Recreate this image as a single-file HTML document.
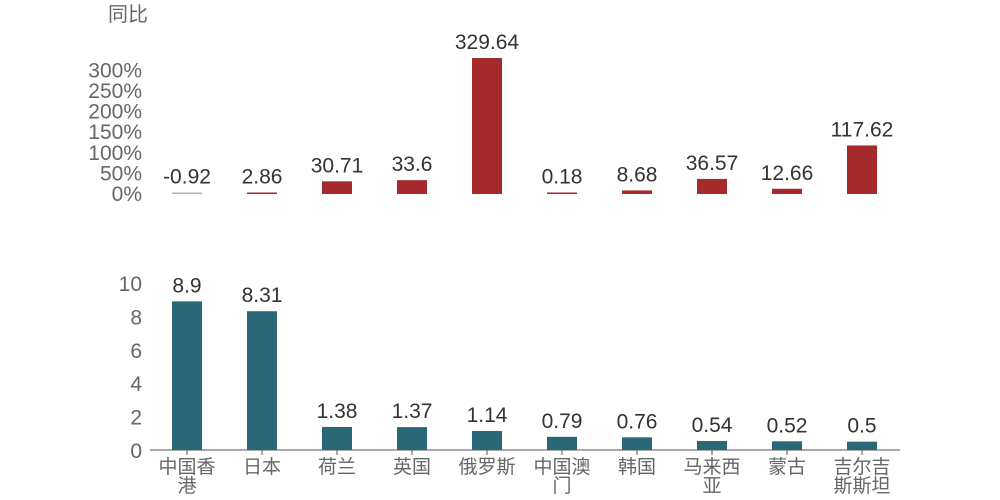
<!DOCTYPE html>
<html><head><meta charset="utf-8"><style>
html,body{margin:0;padding:0;background:#fff;width:1000px;height:500px;overflow:hidden}
svg text{font-family:"Liberation Sans","Noto Sans CJK SC",sans-serif}
</style></head><body>
<svg id="chart" width="1000" height="500" xmlns="http://www.w3.org/2000/svg">
<text x="108" y="21" font-size="20" fill="#666">同比</text>
<g id="topg"></g>
<g id="botg"></g>
</svg>
<script>
const categories=["中国香港","日本","荷兰","英国","俄罗斯","中国澳门","韩国","马来西亚","蒙古","吉尔吉斯斯坦"];
const catLines=[["中国香","港"],["日本"],["荷兰"],["英国"],["俄罗斯"],["中国澳","门"],["韩国"],["马来西","亚"],["蒙古"],["吉尔吉","斯斯坦"]];
const yoyValues=[-0.92,2.86,30.71,33.6,329.64,0.18,8.68,36.57,12.66,117.62];
const mainValues=[8.9,8.31,1.38,1.37,1.14,0.79,0.76,0.54,0.52,0.5];
const yoyTicks=[0,50,100,150,200,250,300];
const mainTicks=[0,2,4,6,8,10];
const NS="http://www.w3.org/2000/svg";
function mk(p,t,a){const e=document.createElementNS(NS,t);for(const k in a)e.setAttribute(k,a[k]);p.appendChild(e);return e;}
const xC=i=>187+i*75;
const yTop=v=>194-v*0.4125;
const yBot=v=>450-v*16.7;
const gTop=document.getElementById('topg'),gBot=document.getElementById('botg');
yoyTicks.forEach(t=>{const e=mk(gTop,'text',{x:142,y:yTop(t)+7,'text-anchor':'end','font-size':21,fill:'#666'});e.textContent=t+'%';

});
mainTicks.forEach(t=>{const e=mk(gBot,'text',{x:142,y:yBot(t)+8,'text-anchor':'end','font-size':21,fill:'#666'});e.textContent=t;

});
yoyValues.forEach((v,i)=>{const y0=yTop(0),y1=yTop(Math.max(v,0));let h=Math.max(y0-y1,1.5);
const r=mk(gTop,'rect',{x:xC(i)-15,y:y0-h,width:30,height:h,fill:v<0?'#aab4bb':'#a52a2c'});


const t=mk(gTop,'text',{x:xC(i),y:y0-h-9,'text-anchor':'middle','font-size':21,fill:'#333'});t.textContent=v;

});
mk(gBot,'line',{x1:150,x2:900,y1:450,y2:450,stroke:'#555','stroke-width':1});
mainValues.forEach((v,i)=>{const y1=yBot(v);
const r=mk(gBot,'rect',{x:xC(i)-15,y:y1,width:30,height:450-y1,fill:'#2a6877'});


const t=mk(gBot,'text',{x:xC(i),y:y1-9,'text-anchor':'middle','font-size':21,fill:'#333'});t.textContent=v;


const tk=mk(gBot,'line',{x1:xC(i),x2:xC(i),y1:450,y2:455,stroke:'#555'});


catLines[i].forEach((ln,j)=>{const c=mk(gBot,'text',{x:xC(i),y:473+j*19,'text-anchor':'middle','font-size':19,fill:'#666'});c.textContent=ln;

});});
</script>
</body></html>
